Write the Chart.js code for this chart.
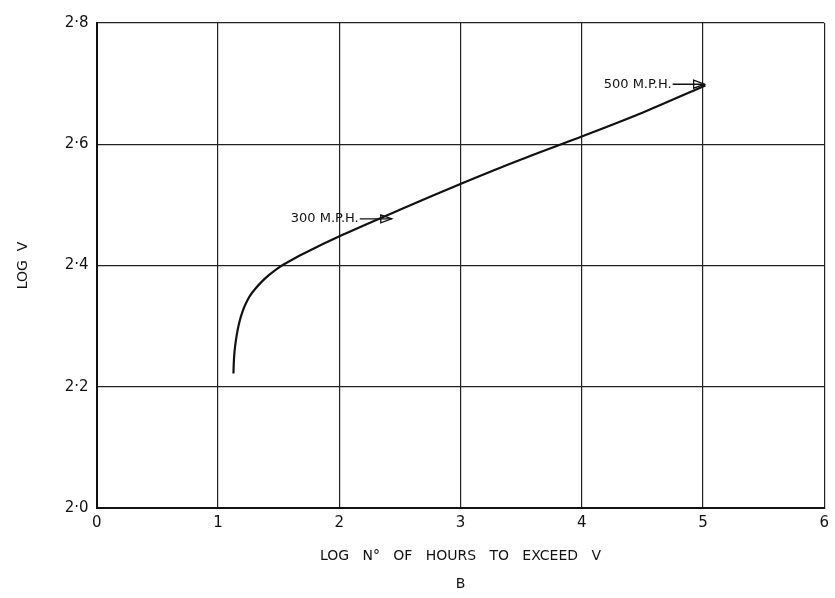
<!DOCTYPE html>
<html>
<head>
<meta charset="utf-8">
<script src="https://cdn.jsdelivr.net/npm/chart.js@4/dist/chart.umd.min.js"></script>
<style>
html,body{margin:0;padding:0;background:#fff;}
#wrap{width:835px;height:598px;}
</style>
</head>
<body>
<div id="wrap"><canvas id="c" width="835" height="598"></canvas></div>
<script>
// Curve: log(hours to exceed V) vs log V
const logHours = [1.128, 1.131, 1.137, 1.148, 1.162, 1.180, 1.203, 1.232, 1.268, 1.310, 1.360, 1.420, 1.490, 1.545, 1.700, 2.033, 2.500, 3.029, 3.500, 4.016, 4.500, 5.020];
const logV     = [2.222, 2.240, 2.258, 2.276, 2.293, 2.309, 2.324, 2.338, 2.351, 2.362, 2.373, 2.384, 2.395, 2.402, 2.419, 2.451, 2.492, 2.537, 2.575, 2.614, 2.652, 2.697];

// Annotations (arrow tips point on the curve)
const annotLabels = ['300 M.P.H.', '500 M.P.H.'];
const annotX = [2.45, 5.03];
const annotY = [2.477, 2.699];

const xTicks = [0, 1, 2, 3, 4, 5, 6];
const yTicks = [2.0, 2.2, 2.4, 2.6, 2.8];

const xTitleLines = ['LOG   N°   OF   HOURS   TO   EXCEED   V', 'B'];
const yTitle = 'LOG  V';

const FONT = '"DejaVu Sans", sans-serif';

const annotPlugin = {
  id: 'annot',
  afterDatasetsDraw(chart) {
    const ctx = chart.ctx;
    const xs = chart.scales.x, ys = chart.scales.y;
    ctx.save();
    ctx.strokeStyle = '#111';
    ctx.fillStyle = '#111';
    ctx.lineWidth = 1.3;
    ctx.font = '13px ' + FONT;
    ctx.textBaseline = 'middle';
    ctx.textAlign = 'right';
    for (let i = 0; i < annotLabels.length; i++) {
      const px = xs.getPixelForValue(annotX[i]);
      const py = ys.getPixelForValue(annotY[i]);
      const tail = px - 34;
      ctx.beginPath();
      ctx.moveTo(tail, py);
      ctx.lineTo(px - 2, py);
      ctx.stroke();
      ctx.beginPath();
      ctx.moveTo(px - 13, py - 4);
      ctx.lineTo(px - 2, py);
      ctx.lineTo(px - 13, py + 4);
      ctx.closePath();
      ctx.stroke();
      ctx.fillText(annotLabels[i], tail - 1, py);
    }
    ctx.restore();
  }
};

new Chart(document.getElementById('c'), {
  type: 'scatter',
  data: {
    datasets: [{
      data: logHours.map((x, i) => ({x: x, y: logV[i]})),
      showLine: true,
      borderColor: '#111',
      borderWidth: 2.2,
      pointRadius: 0,
      tension: 0.3,
      fill: false
    }]
  },
  options: {
    responsive: false,
    animation: false,
    layout: {padding: {left: 15, right: 10, top: 23, bottom: 0}},
    plugins: {
      legend: {display: false},
      tooltip: {enabled: false},
      title: {display: false}
    },
    scales: {
      x: {
        type: 'linear',
        min: 0, max: 6,
        afterBuildTicks: s => { s.ticks = xTicks.map(v => ({value: v})); },
        ticks: {
          color: '#111',
          font: {family: FONT, size: 15},
          padding: 6,
          callback: v => String(v)
        },
        grid: {color: '#222', lineWidth: 1.2, drawTicks: false},
        border: {color: '#111', width: 2},
        title: {
          display: true,
          text: xTitleLines,
          color: '#111',
          font: {family: FONT, size: 14, lineHeight: 2.0},
          padding: {top: 4, bottom: 0}
        }
      },
      y: {
        type: 'linear',
        min: 2.0, max: 2.8,
        afterBuildTicks: s => { s.ticks = yTicks.map(v => ({value: v})); },
        ticks: {
          color: '#111',
          font: {family: FONT, size: 15},
          padding: 8,
          callback: v => v.toFixed(1).replace('.', '·')
        },
        grid: {color: '#222', lineWidth: 1.2, drawTicks: false},
        border: {color: '#111', width: 2},
        title: {
          display: true,
          text: yTitle,
          color: '#111',
          font: {family: FONT, size: 14},
          padding: {top: 0, bottom: 25}
        }
      }
    }
  },
  plugins: [annotPlugin]
});
</script>
</body>
</html>
